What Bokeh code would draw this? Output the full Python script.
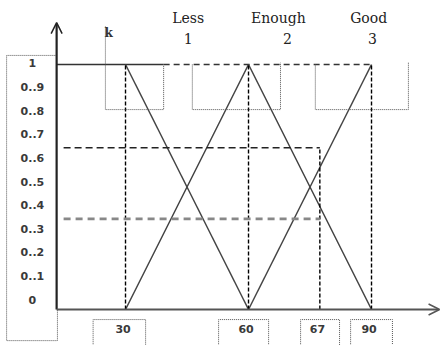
from bokeh.plotting import figure
from bokeh.models import Range1d, Arrow, OpenHead
from bokeh.core.properties import value
from bokeh.embed import file_html
from bokeh.resources import INLINE

# ---- data ----
less_x = [30, 60]
less_y = [1, 0]
enough_x = [30, 60, 90]
enough_y = [0, 1, 0]
good_x = [60, 90]
good_y = [0, 1]
x_tick_labels = ["30", "60", "67", "90"]
x_tick_pos = [30, 60, 77.4, 90]          # drawn positions of the ticks
y_tick_vals = [1, 0.9, 0.8, 0.7, 0.6, 0.5, 0.4, 0.3, 0.2, 0.1, 0]
y_tick_labels = ["1", "0..9", "0..8", "0..7", "0..6", "0..5",
                 "0..4", "0..3", "0..2", "0..1", "0"]
cut_levels = [0.66, 0.37]
terms = ["Less", "Enough", "Good"]
term_nums = ["1", "2", "3"]

# ---- layout ----
p = figure(width=441, height=345, output_backend="svg", toolbar_location=None,
           x_range=Range1d(-0.49, 107.07), y_range=Range1d(-0.1469, 1.2612),
           min_border=0, outline_line_color=None)
p.axis.visible = False
p.grid.visible = False
p.background_fill_color = "white"

X0 = 13.2  # position of the vertical axis
dark = "#333333"

# axes with open arrow heads
p.add_layout(Arrow(end=OpenHead(size=11, line_width=1.5, line_color="#222222"),
                   x_start=X0, y_start=0, x_end=X0, y_end=1.171,
                   line_width=2.2, line_color="#222222"))
p.add_layout(Arrow(end=OpenHead(size=11, line_width=1.5, line_color="#555555"),
                   x_start=X0, y_start=0, x_end=106.6, y_end=0,
                   line_width=2, line_color="#555555"))

# top line: solid then dashed
p.line([X0, 39.3], [1, 1], line_color=dark, line_width=1.5)
p.line([39.3, good_x[-1]], [1, 1], line_color=dark, line_width=1.3, line_dash="6 4")

# membership functions
for xs, ys in [(less_x, less_y), (enough_x, enough_y), (good_x, good_y)]:
    p.line(xs, ys, line_color="#444444", line_width=1.5)

# vertical dashed lines at the peaks
for xv in [30, 60, 90]:
    p.line([xv, xv], [0, 1], line_color="black", line_width=1.4, line_dash="4 2")
# vertical dashed at input 67
p.line([x_tick_pos[2], x_tick_pos[2]], [0, cut_levels[0]], line_color="black",
       line_width=1.4, line_dash="4 2")

# horizontal cut levels
p.line([14.9, x_tick_pos[2]], [cut_levels[0], cut_levels[0]], line_color="#222222",
       line_width=1.4, line_dash="7 4")
p.line([14.9, x_tick_pos[2]], [cut_levels[1], cut_levels[1]], line_color="#888888",
       line_width=2.6, line_dash="7 5")

# dotted boxes at top
dot = dict(line_color="#555555", line_width=1, line_dash="1 1")
p.line([25.1, 25.1, 39.3, 39.3], [1.155, 0.816, 0.816, 1.0], **dot)
p.line([46.3, 46.3, 67.8, 67.8], [1.0, 0.816, 0.816, 1.008], **dot)
p.line([76.3, 76.3, 99.0, 99.0], [1.0, 0.816, 0.816, 1.008], **dot)

# dotted box around y labels
p.line([X0, 1.0, 1.0, 13.4, 13.4], [1.037, 1.037, -0.127, -0.127, 0], **dot)

# dotted brackets around x tick labels
left_ext = [7.9, 7.3, 4.7, 5.1]
right_ext = [4.9, 4.9, 4.8, 5.1]
for pos, le, re in zip(x_tick_pos, left_ext, right_ext):
    p.line([pos - le, pos - le, pos + re, pos + re], [-0.15, -0.041, -0.041, -0.15], **dot)

# y tick labels
y_label_pos = [(10 + 236 * v) / 245 for v in y_tick_vals]
p.text(x=[7.3] * len(y_tick_labels), y=y_label_pos, text=y_tick_labels,
       text_font=value("DejaVu Sans"), text_font_style="bold", text_font_size="11px",
       text_color="#3a3a3a", text_align="center", text_baseline="middle")

# x tick labels
p.text(x=[xp - 0.6 for xp in x_tick_pos], y=[-0.0776] * 4, text=x_tick_labels,
       text_font=value("DejaVu Sans"), text_font_style="bold", text_font_size="11px",
       text_color="#3a3a3a", text_align="center", text_baseline="middle")

# term labels
term_x = [45.3, 67.3, 89.3]
num_x = [45.3, 69.5, 90.2]
p.text(x=term_x, y=[1.188] * 3, text=terms, text_font=value("DejaVu Serif"),
       text_font_size="14px", text_color="#222222", text_align="center",
       text_baseline="middle")
p.text(x=num_x, y=[1.108] * 3, text=term_nums, text_font=value("DejaVu Serif"),
       text_font_size="14px", text_color="#222222", text_align="center",
       text_baseline="middle")
p.text(x=[25.9], y=[1.127], text=["k"], text_font=value("DejaVu Serif"),
       text_font_style="bold", text_font_size="12px", text_color="#333333",
       text_align="center", text_baseline="middle")

open("out.html", "w").write(file_html(p, INLINE))
